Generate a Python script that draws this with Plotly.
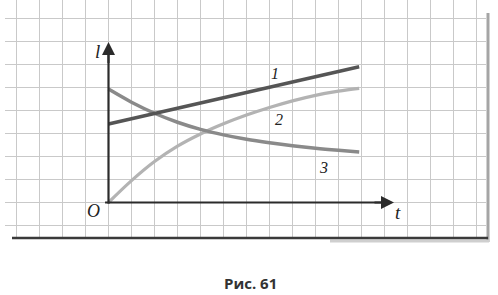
import plotly.graph_objects as go

# ---- data (grid units: t horizontal, l vertical) ----
t_line1 = [0, 10.9]
l_line1 = [3.41, 5.9]

t_curve = [0, 1, 2, 3, 4, 5, 6, 7, 8, 9, 10, 10.9]
l_curve2 = [0, 0.95, 1.78, 2.45, 2.98, 3.42, 3.8, 4.13, 4.42, 4.66, 4.84, 4.96]
l_curve3 = [4.93, 4.36, 3.88, 3.49, 3.18, 2.94, 2.75, 2.6, 2.47, 2.36, 2.27, 2.2]

curve_labels = ["1", "2", "3"]
label_t = [7.24, 7.41, 9.33]
label_l = [5.63, 3.59, 1.54]

grid_t = list(range(-4, 17))
grid_l = list(range(-1, 9))

# ---- geometry: origin at pixel (108.5, 202.5), 23 px per unit ----
W, H = 498, 295
OX, OY, U = 108.5, 202.5, 23.0
x_range = [-OX / U, (W - OX) / U]
y_range = [(OY - H) / U, OY / U]

def px_t(px):
    return (px - OX) / U

def py_l(py):
    return (OY - py) / U

fig = go.Figure()

shapes = []
grid_col = "#c9c9c9"
for g in grid_t:
    shapes.append(dict(type="line", x0=g, x1=g, y0=py_l(0), y1=py_l(237),
                       line=dict(color=grid_col, width=1), layer="below"))
for g in grid_l:
    shapes.append(dict(type="line", x0=px_t(5), x1=px_t(486), y0=g, y1=g,
                       line=dict(color=grid_col, width=1), layer="below"))
# frame: right gray bar and bottom dark bar with faint shadow
shapes.append(dict(type="line", x0=px_t(488), x1=px_t(488), y0=py_l(13), y1=py_l(242),
                   line=dict(color="#a5a5a5", width=3), layer="below"))
shapes.append(dict(type="line", x0=px_t(330), x1=px_t(489), y0=py_l(241), y1=py_l(241),
                   line=dict(color="#cfcfcf", width=3), layer="below"))
shapes.append(dict(type="line", x0=px_t(12), x1=px_t(488), y0=py_l(238), y1=py_l(238),
                   line=dict(color="#3a3a3a", width=2.5), layer="below"))
# axes lines
shapes.append(dict(type="line", x0=0, x1=0, y0=-0.05, y1=6.5,
                   line=dict(color="#2b2b2b", width=2.2)))
shapes.append(dict(type="line", x0=-0.15, x1=11.9, y0=0, y1=0,
                   line=dict(color="#2b2b2b", width=2.2)))

# curves
fig.add_trace(go.Scatter(x=t_curve, y=l_curve2, mode="lines",
                         line=dict(color="#b3b3b3", width=3.2, shape="spline", smoothing=1.0),
                         hoverinfo="skip"))
fig.add_trace(go.Scatter(x=t_curve, y=l_curve3, mode="lines",
                         line=dict(color="#8a8a8a", width=3.5, shape="spline", smoothing=1.0),
                         hoverinfo="skip"))
fig.add_trace(go.Scatter(x=t_line1, y=l_line1, mode="lines",
                         line=dict(color="#555555", width=3.5),
                         hoverinfo="skip"))

annotations = []
# arrow heads
annotations.append(dict(x=0, y=py_l(42), ax=0, ay=6.0, xref="x", yref="y",
                        axref="x", ayref="y", showarrow=True, arrowhead=2,
                        arrowsize=1.3, arrowwidth=2, arrowcolor="#2b2b2b", text=""))
annotations.append(dict(x=px_t(394), y=0, ax=11.5, ay=0, xref="x", yref="y",
                        axref="x", ayref="y", showarrow=True, arrowhead=2,
                        arrowsize=1.3, arrowwidth=2, arrowcolor="#2b2b2b", text=""))

serif = "Liberation Serif, DejaVu Serif, serif"
for txt, tx, ly in zip(curve_labels, label_t, label_l):
    annotations.append(dict(x=tx, y=ly, text="<i>%s</i>" % txt, showarrow=False,
                            font=dict(family=serif, size=16, color="#222")))
annotations.append(dict(x=px_t(97), y=py_l(51), text="<i>l</i>", showarrow=False,
                        font=dict(family=serif, size=19, color="#222")))
annotations.append(dict(x=px_t(93), y=py_l(211), text="<i>O</i>", showarrow=False,
                        font=dict(family=serif, size=18, color="#222")))
annotations.append(dict(x=px_t(398), y=py_l(212), text="<i>t</i>", showarrow=False,
                        font=dict(family=serif, size=19, color="#222")))
annotations.append(dict(x=px_t(250), y=py_l(283), text="<b>Рис. 61</b>", showarrow=False,
                        font=dict(family="Open Sans, Noto Sans, sans-serif", size=15, color="#333")))

fig.update_layout(
    width=W, height=H, margin=dict(l=0, r=0, t=0, b=0),
    paper_bgcolor="white", plot_bgcolor="white", showlegend=False,
    xaxis=dict(range=x_range, visible=False, fixedrange=True),
    yaxis=dict(range=y_range, visible=False, fixedrange=True),
    shapes=shapes, annotations=annotations,
)

fig.write_html("out.html", config={"displayModeBar": False})
